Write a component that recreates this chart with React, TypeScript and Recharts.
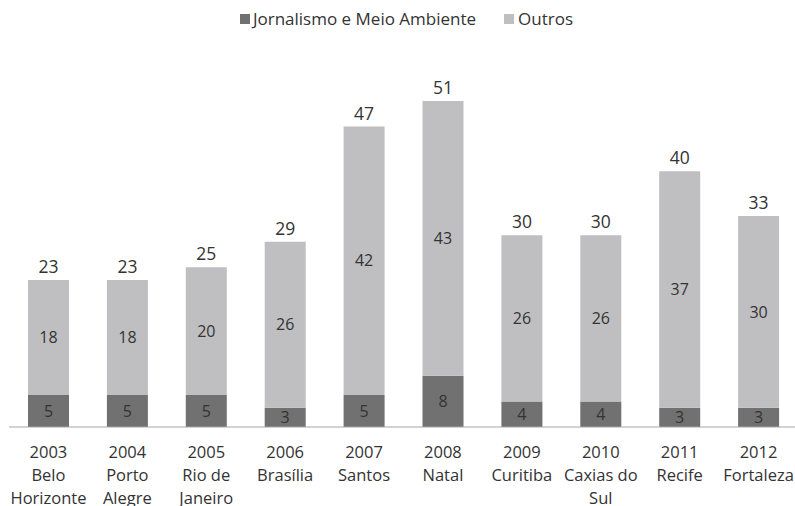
import { BarChart, Bar, XAxis, YAxis, LabelList } from 'recharts';

const categories = [
  '2003\nBelo\nHorizonte',
  '2004\nPorto\nAlegre',
  '2005\nRio de\nJaneiro',
  '2006\nBrasília',
  '2007\nSantos',
  '2008\nNatal',
  '2009\nCuritiba',
  '2010\nCaxias do\nSul',
  '2011\nRecife',
  '2012\nFortaleza',
];
const jornalismo = [5, 5, 5, 3, 5, 8, 4, 4, 3, 3];
const outros = [18, 18, 20, 26, 42, 43, 26, 26, 37, 30];
const totals = [23, 23, 25, 29, 47, 51, 30, 30, 40, 33];

const data = categories.map((name, i) => ({
  name,
  jornalismo: jornalismo[i],
  outros: outros[i],
  total: totals[i],
}));

const DARK = '#717171';
const LIGHT = '#bfbfc1';
const TEXT = '#333333';
const FONT = '"Open Sans", "Noto Sans", sans-serif';

function CategoryTick({ x, y, payload }: any) {
  const lines = String(payload.value).split('\n');
  return (
    <text x={x} y={y} textAnchor="middle" fill={TEXT} fontSize={16.5} fontFamily={FONT}>
      {lines.map((l, i) => (
        <tspan key={i} x={x} dy={i === 0 ? 23 : 23}>
          {l}
        </tspan>
      ))}
    </text>
  );
}

export default function App() {
  return (
    <div style={{ position: 'absolute', left: 0, top: 0, width: 795, height: 506, overflow: 'hidden', background: '#fff' }}>
      <div
        style={{
          position: 'absolute',
          top: 7,
          left: 0,
          width: 795,
          display: 'flex',
          justifyContent: 'center',
          fontFamily: FONT,
          fontSize: 17,
          color: TEXT,
        }}
      >
        <span style={{ display: 'flex', alignItems: 'center', marginRight: 28, marginLeft: 18 }}>
          <span style={{ width: 10, height: 10, background: DARK, display: 'inline-block', marginRight: 3 }} />
          Jornalismo e Meio Ambiente
        </span>
        <span style={{ display: 'flex', alignItems: 'center' }}>
          <span style={{ width: 10, height: 10, background: LIGHT, display: 'inline-block', marginRight: 4 }} />
          Outros
        </span>
      </div>
      <BarChart
        width={800}
        height={506}
        data={data}
        margin={{ top: 101, right: 2, bottom: 0, left: 9 }}
        barSize={41}
      >
        <XAxis
          dataKey="name"
          height={79}
          tickLine={false}
          axisLine={{ stroke: '#a6a6a6' }}
          interval={0}
          tick={<CategoryTick />}
        />
        <YAxis hide domain={[0, 51]} />
        <Bar dataKey="jornalismo" stackId="a" fill={DARK} isAnimationActive={false}>
          <LabelList dataKey="jornalismo" position="center" fill={TEXT} fontSize={16} fontFamily={FONT} />
        </Bar>
        <Bar dataKey="outros" stackId="a" fill={LIGHT} isAnimationActive={false}>
          <LabelList dataKey="outros" position="center" fill={TEXT} fontSize={16} fontFamily={FONT} />
          <LabelList dataKey="total" position="top" offset={7} fill={TEXT} fontSize={17.5} fontFamily={FONT} />
        </Bar>
      </BarChart>
    </div>
  );
}
